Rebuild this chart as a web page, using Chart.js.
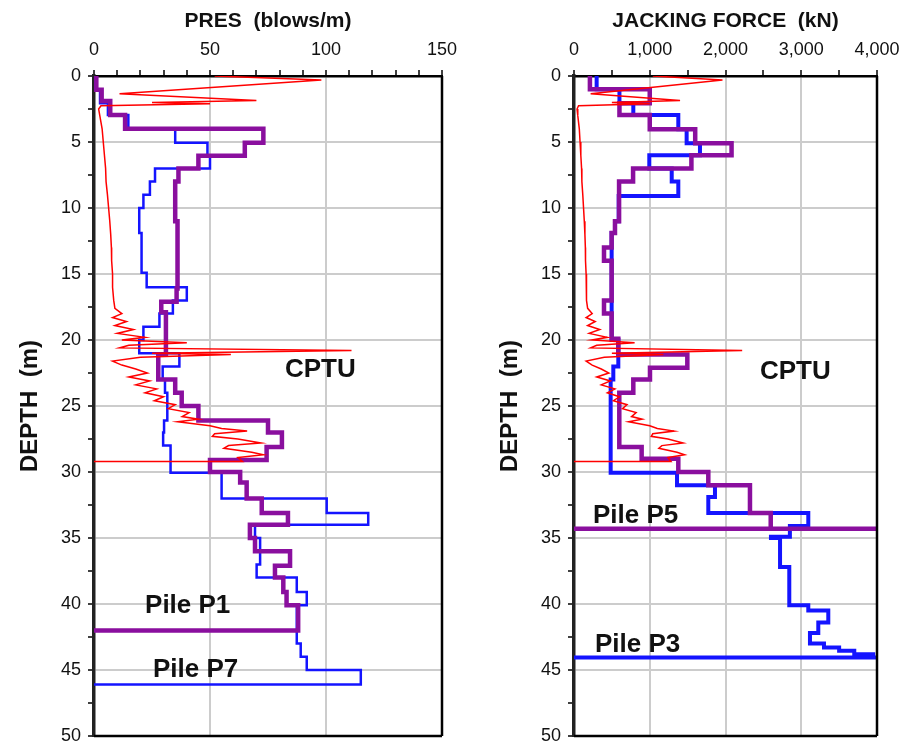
<!DOCTYPE html>
<html><head><meta charset="utf-8">
<script src="https://cdn.jsdelivr.net/npm/chart.js@4.4.1/dist/chart.umd.min.js"></script>
<style>
html,body{margin:0;padding:0;background:#fff;}
#wrap{position:relative;width:917px;height:746px;overflow:hidden;}
#c1{position:absolute;left:0;top:0;width:460px;height:746px;}
#c2{position:absolute;left:460px;top:0;width:457px;height:746px;}
</style></head><body>
<div id="wrap"><canvas id="c1" width="460" height="746"></canvas><canvas id="c2" width="457" height="746"></canvas></div>
<script>
// ---------------- DATA ----------------
// CPTU trace (read in PRES-panel units); same trace shown in the jacking-force panel in kN
const cptuDepth = [0, 0.3, 1.35, 1.85, 2.0, 2.1, 2.25, 2.5, 3, 4, 5, 6, 7, 8, 9, 10, 11, 12, 13, 14, 15, 16, 17,
  17.6, 18.0, 18.3, 18.6, 18.9, 19.2, 19.5, 19.8, 20.0, 20.2, 20.4, 20.6, 20.8, 21.0, 21.1, 21.3, 21.6, 21.9,
  22.2, 22.5, 22.8, 23.1, 23.4, 23.7, 24.0, 24.3, 24.6, 24.9, 25.2, 25.5, 25.8, 26.0, 26.2, 26.5, 26.7, 26.9,
  27.1, 27.3, 27.5, 27.8, 28.0, 28.2, 28.5, 28.7, 28.9, 29.2, 29.2];
const cptuPres = [52, 98, 11, 70, 25, 50, 3, 2, 2.5, 3.5, 4, 4.5, 5, 5.2, 5.8, 6.3, 6.8, 7.2, 7.5, 7.6, 8, 8, 8.5,
  9, 12, 8, 14, 9, 17, 10, 22, 12, 40, 15, 11, 111, 25, 59, 20, 8, 12,
  18, 23, 15, 24, 18, 27, 22, 30, 26, 35, 32, 41, 38, 45, 36, 50, 55, 66,
  52, 51, 62, 72, 58, 56, 68, 73, 62, 64, 0];
const cptuToKN = 20; // display conversion of the same CPTU trace onto the kN axis

// Pile P1 (PRES, blows/m): layer boundaries (m) and value in each layer
const p1Depth = [0, 1.05, 1.9, 2.95, 4.0, 5.05, 6.05, 7.0, 8.0, 11.0, 16.1, 17.1, 17.9, 21.1, 23.0, 24.0, 25.0, 26.1,
  27.0, 28.1, 29.1, 30.0, 30.8, 32.0, 33.1, 34.0, 35.0, 36.0, 37.1, 38.0, 39.1, 40.1, 42.0];
const p1Pres = [1, 3.3, 7, 13.4, 73, 65, 45, 36.4, 35, 36, 35.6, 29, 31, 27.7, 35, 37.8, 45, 75,
  81, 74.4, 50, 63, 65.8, 72.3, 83.6, 67.2, 69.4, 84.5, 78, 81.6, 83, 88];
const p1Tail = [0];

// Pile P7 (PRES, blows/m)
const p7Depth = [0, 1.0, 2.07, 2.95, 4.04, 5.05, 6.05, 7.0, 8.0, 9.0, 10.0, 11.9, 14.9, 16.0, 17.0, 18.0, 19.0, 20.0,
  21.0, 22.0, 23.0, 24.0, 26.1, 27.0, 28.0, 30.05, 32.0, 33.1, 34.0, 35.0, 37.0, 38.0, 39.1, 40.1, 43.0, 44.0, 45.0, 46.1];
const p7Pres = [0.5, 2.6, 6, 14.8, 35, 48.9, 50, 26.3, 24.1, 21.3, 19.5, 20.5, 22.7, 40, 34, 28.2, 21.3,
  19.5, 36.8, 29.6, 30.6, 31.6, 30.2, 29.8, 33, 55, 100.3, 118.2, 69.4, 71.6, 70.1, 87.4, 91.7, 87.4, 89.1, 91.7, 115];
const p7Tail = [0];

// Pile P5 (jacking force, kN)
const p5Depth = [0, 1.0, 2.07, 2.95, 4.04, 5.1, 6.0, 7.0, 8.0, 11.0, 11.9, 13.0, 14.0, 17.0, 18.0, 19.9, 21.1, 22.1,
  23.0, 24.0, 28.1, 29.0, 30.0, 31.0, 33.1, 34.3];
const p5Force = [210, 1000, 600, 1000, 1600, 2080, 1550, 780, 595, 541, 497, 396, 497, 396, 497, 585, 1496,
  1003, 783, 598, 893, 1377, 1773, 2323, 2597];
const p5Tail = [4100, 0];

// Pile P3 (jacking force, kN)
const p3Depth = [0, 1.0, 2.07, 2.95, 4.04, 5.1, 6.0, 7.0, 8.0, 9.1, 11.0, 11.9, 20.0, 22.0, 23.0, 30.05, 31.0, 31.9,
  33.1, 34.1, 34.9, 35.0, 37.2, 40.1, 40.5, 41.4, 42.2, 43.0, 43.3, 43.55, 43.8, 44.05];
const p3Force = [299, 600, 783, 1377, 1487, 1663, 994, 1290, 1377, 590, 541, 497, 585, 519, 484, 1360, 1861,
  1773, 3093, 2850, 2600, 2720, 2842, 3093, 3357, 3225, 3115, 3300, 3500, 3700, 3950];
const p3Tail = [4100, 0];

// Axis ticks
const presTicks = [0, 50, 100, 150];
const forceTicks = [0, 1000, 2000, 3000, 4000];
const depthTicks = [0, 5, 10, 15, 20, 25, 30, 35, 40, 45, 50];

// ---------------- BUILD ----------------
const FONT = "'Liberation Sans', Arial, Helvetica, sans-serif";
const PURPLE = '#8a0f9e', BLUE = '#1414ff', RED = '#ff0000', GRID = '#cccccc';

function stairs(depths, values, tail) {
  const pts = [];
  for (let i = 0; i < values.length; i++) {
    pts.push({x: values[i], y: depths[i]});
    pts.push({x: values[i], y: depths[i + 1]});
  }
  const dEnd = depths[depths.length - 1];
  tail.forEach(v => pts.push({x: v, y: dEnd}));
  return pts;
}
function trace(depths, values, k) {
  return depths.map((d, i) => ({x: values[i] * k, y: d}));
}

const framePlugin = {
  id: 'frame',
  afterDatasetsDraw(chart) {
    const {ctx, chartArea: a} = chart;
    ctx.save();
    ctx.strokeStyle = '#000';
    ctx.lineWidth = 2.5;
    ctx.beginPath();
    ctx.moveTo(a.right, a.top); ctx.lineTo(a.right, a.bottom);
    ctx.moveTo(a.left, a.bottom); ctx.lineTo(a.right, a.bottom);
    ctx.stroke();
    ctx.restore();
  }
};
const labelPlugin = {
  id: 'labels',
  afterDraw(chart, args, opts) {
    const {ctx} = chart;
    const xs = chart.scales.x, ys = chart.scales.y;
    ctx.save();
    ctx.fillStyle = '#111';
    ctx.font = 'bold 26px ' + FONT;
    ctx.textAlign = 'left';
    ctx.textBaseline = 'alphabetic';
    (opts.items || []).forEach(it => {
      ctx.fillText(it.text, xs.getPixelForValue(it.x), ys.getPixelForValue(it.y));
    });
    ctx.restore();
  }
};

function zeroPad(s) { s.paddingLeft = 0; s.paddingRight = 0; s.paddingTop = 0; s.paddingBottom = 0; }

function makePanel(canvas, p) {
  const majorX = p.xTicks;
  return new Chart(canvas, {
    type: 'scatter',
    data: {datasets: p.datasets},
    plugins: [framePlugin, labelPlugin],
    options: {
      responsive: false, animation: false, events: [],
      layout: {padding: {left: 0, top: 0, right: p.padRight, bottom: 10}},
      plugins: {legend: {display: false}, tooltip: {enabled: false}, labels: {items: p.labels}},
      elements: {point: {radius: 0}, line: {tension: 0}},
      scales: {
        x: {
          type: 'linear', position: 'top', min: majorX[0], max: majorX[majorX.length - 1],
          ticks: {stepSize: p.xMinor, autoSkip: false, maxRotation: 0, padding: 9, color: '#111',
            font: {family: FONT, size: 18},
            callback: v => majorX.includes(v) ? v.toLocaleString('en-US') : ''},
          grid: {color: c => (c.tick && majorX.includes(c.tick.value)) ? GRID : 'rgba(0,0,0,0)',
            lineWidth: 2, tickColor: '#000', tickLength: 6, tickWidth: 1.5},
          border: {display: true, color: '#000', width: 2.5},
          title: {display: true, text: p.xTitle, color: '#111', font: {family: FONT, size: 21, weight: 'bold'},
            padding: {top: 9, bottom: 0}},
          afterFit: s => { s.height = 76; zeroPad(s); }
        },
        y: {
          type: 'linear', position: 'left', reverse: true, min: 0, max: 50,
          ticks: {stepSize: 2.5, autoSkip: false, padding: 7, color: '#111', font: {family: FONT, size: 18},
            callback: v => depthTicks.includes(v) ? String(v) : ''},
          grid: {color: c => (c.tick && depthTicks.includes(c.tick.value)) ? GRID : 'rgba(0,0,0,0)',
            lineWidth: 2, tickColor: '#000', tickLength: 6, tickWidth: 1.5},
          border: {display: true, color: '#222', width: 3.5},
          title: {display: true, text: 'DEPTH  (m)', color: '#111', font: {family: FONT, size: 24, weight: 'bold'},
            padding: {top: p.yTitlePad, bottom: 0}},
          afterFit: s => { s.width = p.yWidth; zeroPad(s); }
        }
      }
    }
  });
}

makePanel(document.getElementById('c1'), {
  xTicks: presTicks, xMinor: 10, xTitle: 'PRES  (blows/m)', padRight: 18, yWidth: 94, yTitlePad: 16,
  datasets: [
    {label: 'CPTU', data: trace(cptuDepth, cptuPres, 1), showLine: true, borderColor: RED, borderWidth: 1.5, order: 0},
    {label: 'Pile P1', data: stairs(p1Depth, p1Pres, p1Tail), showLine: true, borderColor: PURPLE, borderWidth: 4.5, order: 1},
    {label: 'Pile P7', data: stairs(p7Depth, p7Pres, p7Tail), showLine: true, borderColor: BLUE, borderWidth: 2.5, order: 2}
  ],
  labels: [
    {text: 'CPTU', x: 82.3, y: 22.8},
    {text: 'Pile P1', x: 22, y: 40.7},
    {text: 'Pile P7', x: 25.4, y: 45.5}
  ]
});

makePanel(document.getElementById('c2'), {
  xTicks: forceTicks, xMinor: 500, xTitle: 'JACKING FORCE  (kN)', padRight: 40, yWidth: 114, yTitlePad: 36,
  datasets: [
    {label: 'CPTU', data: trace(cptuDepth, cptuPres, cptuToKN), showLine: true, borderColor: RED, borderWidth: 1.5, order: 0},
    {label: 'Pile P5', data: stairs(p5Depth, p5Force, p5Tail), showLine: true, borderColor: PURPLE, borderWidth: 4.5, order: 1},
    {label: 'Pile P3', data: stairs(p3Depth, p3Force, p3Tail), showLine: true, borderColor: BLUE, borderWidth: 4, order: 2}
  ],
  labels: [
    {text: 'CPTU', x: 2455, y: 22.95},
    {text: 'Pile P5', x: 251, y: 33.86},
    {text: 'Pile P3', x: 277, y: 43.6}
  ]
});
</script>
</body></html>
